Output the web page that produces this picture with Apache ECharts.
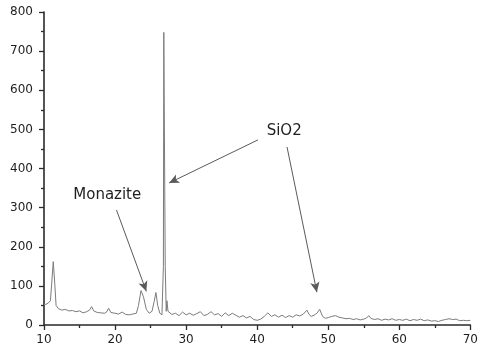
<!DOCTYPE html>
<html lang="en">
<head>
    <meta charset="UTF-8">
    <title>XRD</title>
</head>
<body style="margin:0;background:#fff">
<div id="main" style="height: 352px;width: 481px"></div>
<script src="https://cdn.jsdelivr.net/npm/echarts@6.0.0/dist/echarts.min.js"></script>
<script>
    // 2-theta positions and intensities
    var twoTheta = [10, 10.3, 10.6, 10.9, 11.1, 11.3, 11.5, 11.7, 12, 12.5, 13, 13.5, 14, 14.5, 15, 15.5, 16, 16.4, 16.7, 17,
        17.5, 18, 18.5, 18.8, 19.1, 19.4, 20, 20.5, 21, 21.5, 22, 22.5, 23, 23.3, 23.65, 24, 24.4, 24.8, 25.2, 25.5,
        25.75, 26, 26.3, 26.6, 26.8, 26.86, 27.0, 27.06, 27.2, 27.3, 27.45, 27.7, 28, 28.5, 29, 29.5, 30, 30.5, 31, 31.5,
        32, 32.5, 33, 33.5, 34, 34.5, 35, 35.5, 36, 36.5, 37, 37.5, 38, 38.5, 39, 39.5, 40, 40.5, 41, 41.5,
        42, 42.5, 43, 43.5, 44, 44.5, 45, 45.5, 46, 46.5, 47, 47.3, 47.6, 48, 48.4, 48.8, 49.2, 49.6, 50, 50.5,
        51, 51.5, 52, 52.5, 53, 53.5, 54, 54.5, 55, 55.4, 55.7, 56, 56.5, 57, 57.5, 58, 58.5, 59, 59.5, 60,
        60.5, 61, 61.5, 62, 62.5, 63, 63.5, 64, 64.5, 65, 65.5, 66, 66.5, 67, 67.5, 68, 68.5, 69, 69.5, 70];
    var intensity = [52, 53, 56, 62, 110, 162, 110, 50, 42, 38, 40, 36, 37, 34, 36, 31, 34, 38, 47, 36,
        32, 31, 30, 33, 43, 32, 30, 28, 33, 27, 26, 28, 30, 50, 88, 72, 40, 30, 35, 60,
        83, 50, 30, 26, 150, 748, 748, 150, 35, 62, 35, 30, 27, 30, 24, 33, 26, 30, 25, 29,
        34, 24, 27, 34, 26, 29, 22, 31, 24, 30, 25, 20, 24, 18, 22, 14, 12, 15, 22, 31,
        22, 26, 20, 25, 19, 24, 20, 26, 23, 28, 38, 27, 22, 25, 30, 40, 22, 17, 19, 22,
        24, 20, 18, 16, 17, 14, 16, 13, 15, 18, 24, 17, 14, 16, 12, 15, 13, 16, 12, 14,
        12, 15, 11, 14, 12, 15, 11, 13, 10, 11, 9, 12, 14, 16, 14, 15, 11, 12, 11, 12];
    var xTicks = [10, 20, 30, 40, 50, 60, 70];
    var yTicks = [0, 100, 200, 300, 400, 500, 600, 700, 800];

    // phase labels and arrows (data coordinates)
    var labels = [
        {name: 'Monazite', coord: [18.9, 332]},
        {name: 'SiO2', coord: [43.8, 496]}
    ];
    var arrows = [
        [[20.2, 294], [24.4, 86]],
        [[40.1, 473], [27.6, 363]],
        [[44.2, 455], [48.4, 84]]
    ];

    var points = twoTheta.map(function (x, i) { return [x, intensity[i]]; });
    var axisColor = '#2a2a2a';
    var font = 'DejaVu Sans';

    function axisCommon(ticks, margin) {
        return {
            type: 'value',
            min: ticks[0],
            max: ticks[ticks.length - 1],
            interval: ticks[1] - ticks[0],
            axisLine: {show: true, lineStyle: {color: axisColor, width: 1.6}},
            axisTick: {show: true, length: 5, lineStyle: {color: axisColor, width: 1.3}},
            minorTick: {show: true, splitNumber: 2, length: 3, lineStyle: {color: axisColor, width: 1.3}},
            splitLine: {show: false},
            axisLabel: {color: '#1e1e1e', fontSize: 12, fontFamily: font, margin: margin}
        };
    }

    var myChart = echarts.init(document.getElementById('main'));
    var option = {
        backgroundColor: '#fff',
        animation: false,
        grid: {left: 44, right: 7, top: 12, bottom: 27},
        xAxis: axisCommon(xTicks, 9),
        yAxis: axisCommon(yTicks, 11),
        series: [{
            type: 'line',
            data: points,
            symbol: 'none',
            lineStyle: {color: '#7c7c7c', width: 1},
            markLine: {
                silent: true,
                symbol: ['none', 'arrow'],
                symbolSize: [7, 10],
                label: {show: false},
                lineStyle: {color: '#5a5a5a', width: 1, type: 'solid'},
                data: arrows.map(function (a) {
                    return [{coord: a[0]}, {coord: a[1]}];
                })
            },
            markPoint: {
                silent: true,
                symbol: 'circle',
                symbolSize: 0,
                label: {
                    show: true,
                    position: 'inside',
                    formatter: '{b}',
                    color: '#1e1e1e',
                    fontSize: 15,
                    fontFamily: font
                },
                data: labels
            }
        }]
    };

    myChart.setOption(option);
</script>
</body>
</html>
